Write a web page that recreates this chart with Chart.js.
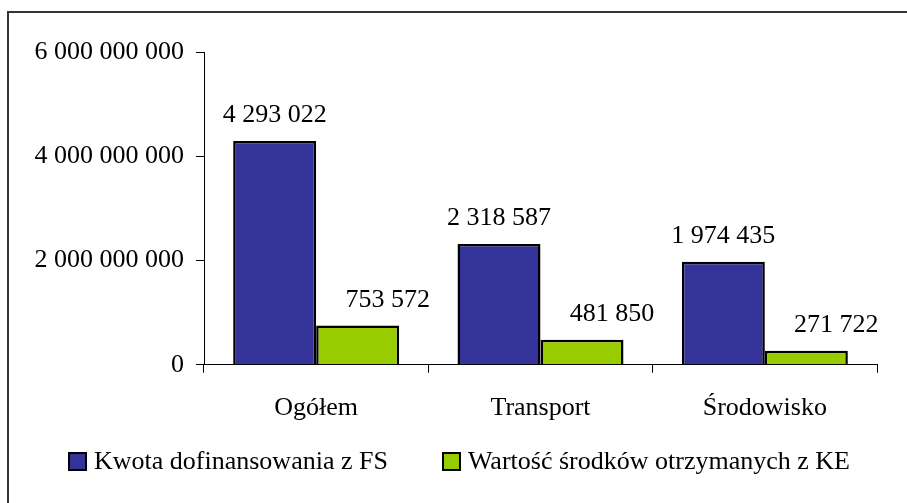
<!DOCTYPE html>
<html>
<head>
<meta charset="utf-8">
<script src="https://cdn.jsdelivr.net/npm/chart.js@4"></script>
<style>
  html, body { margin: 0; padding: 0; background: #fff; }
  #wrap { position: relative; width: 907px; height: 503px; overflow: hidden; }
  #frame { position: absolute; left: 7px; top: 11px; width: 1000px; height: 600px;
           border-top: 2px solid #333; border-left: 2px solid #333; }
  canvas { position: absolute; left: 0; top: 0; }
  #legend { position: absolute; left: 68px; top: 446px; display: flex; align-items: center;
            font: 26px "Liberation Serif", "Times New Roman", serif; color: #000; white-space: nowrap; }
  #legend .item { display: flex; align-items: center; margin-right: 54px; }
  #legend .box { width: 15px; height: 15px; border: 2px solid #000; margin-right: 7px; }
</style>
</head>
<body>
<div id="wrap">
  <div id="frame"></div>
  <canvas id="chart" width="907" height="503"></canvas>
  <div id="legend"></div>
</div>
<script>
const categories = ['Ogółem', 'Transport', 'Środowisko'];
const seriesNames = ['Kwota dofinansowania z FS', 'Wartość środków otrzymanych z KE'];
const seriesColors = ['#333399', '#99CC00'];
// values in PLN (labels show thousands)
const fsValues = [4293022000, 2318587000, 1974435000];
const keValues = [753572000, 481850000, 271722000];
const yTicks = [0, 2000000000, 4000000000, 6000000000];

const FONT = '"Liberation Serif", "Times New Roman", serif';

function spaced(n) {
    return String(Math.round(n)).replace(/\B(?=(\d{3})+(?!\d))/g, ' ');
}

const labelOffsets = [0, 30];

const barLabels = {
    id: 'barLabels',
    afterDatasetsDraw(chart) {
        const ctx = chart.ctx;
        ctx.save();
        ctx.font = '26px ' + FONT;
        ctx.fillStyle = '#000';
        ctx.textAlign = 'center';
        ctx.textBaseline = 'alphabetic';
        chart.data.datasets.forEach((ds, i) => {
            chart.getDatasetMeta(i).data.forEach((bar, j) => {
                ctx.fillText(spaced(ds.data[j] / 1000), bar.x + labelOffsets[i], bar.y - 19);
            });
        });
        ctx.restore();
    }
};

const chart = new Chart(document.getElementById('chart').getContext('2d'), {
    type: 'bar',
    data: {
        labels: categories,
        datasets: [{
            label: seriesNames[0],
            data: fsValues,
            backgroundColor: seriesColors[0],
            borderColor: '#000',
            borderWidth: 2.5
        }, {
            label: seriesNames[1],
            data: keValues,
            backgroundColor: seriesColors[1],
            borderColor: '#000',
            borderWidth: 2.5
        }]
    },
    options: {
        responsive: false,
        animation: false,
        categoryPercentage: 0.74,
        barPercentage: 1,
        layout: { padding: { left: 10, right: 30, top: 52, bottom: 59 } },
        plugins: {
            legend: { display: false },
            tooltip: { enabled: false }
        },
        scales: {
            x: {
                grid: { drawOnChartArea: false, drawTicks: true, tickLength: 8, color: '#000' },
                border: { color: '#000', width: 1 },
                ticks: { font: { family: FONT, size: 26 }, color: '#000', padding: 20 }
            },
            y: {
                min: 0,
                max: 6000000000,
                afterBuildTicks: axis => { axis.ticks = yTicks.map(v => ({ value: v })); },
                afterFit: axis => { axis.width = 194; },
                grid: { drawOnChartArea: false, drawTicks: true, tickLength: 8, color: '#000' },
                border: { color: '#000', width: 1 },
                ticks: {
                    font: { family: FONT, size: 26 },
                    color: '#000',
                    padding: 12,
                    callback: v => spaced(v)
                }
            }
        }
    },
    plugins: [barLabels]
});

// legend as html, built from the datasets
const legend = document.getElementById('legend');
chart.data.datasets.forEach(ds => {
    const item = document.createElement('div');
    item.className = 'item';
    const box = document.createElement('span');
    box.className = 'box';
    box.style.background = ds.backgroundColor;
    const txt = document.createElement('span');
    txt.textContent = ds.label;
    item.appendChild(box);
    item.appendChild(txt);
    legend.appendChild(item);
});
</script>
</body>
</html>
